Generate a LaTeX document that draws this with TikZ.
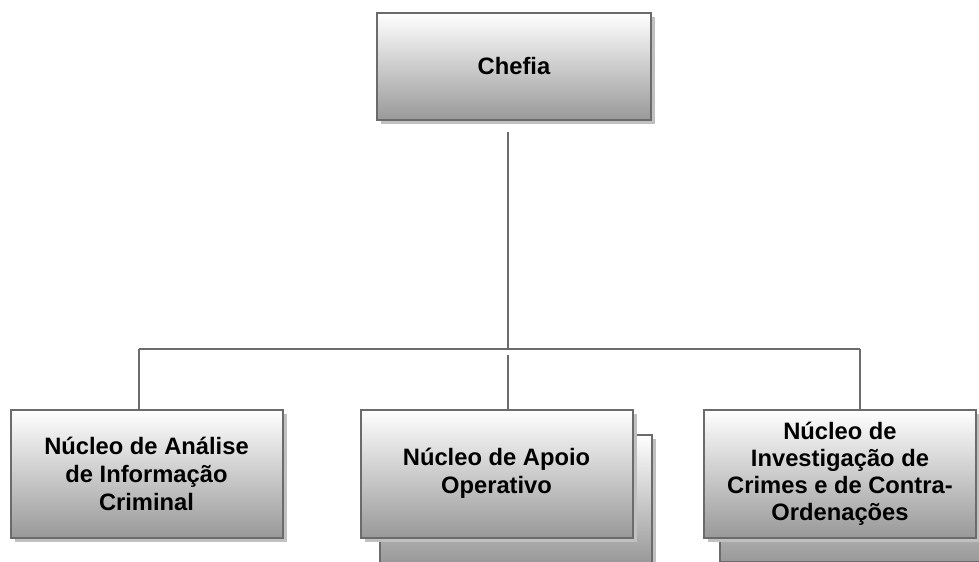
\documentclass[tikz,border=0pt]{standalone}
\usepackage{fontspec}
\setmainfont{Liberation Sans}
\usetikzlibrary{shadows}
\definecolor{edge}{HTML}{6B6B6B}
\definecolor{shadowgray}{HTML}{C0C0C0}
\definecolor{botgray}{HTML}{999999}
\begin{document}
\begin{tikzpicture}[x=0.75pt,y=-0.75pt,
  orgbox/.style={draw=edge, line width=1.5pt, top color=white, bottom color=botgray,
    drop shadow={shadow xshift=3pt, shadow yshift=-3pt, fill=shadowgray, opacity=1},
    minimum width=204pt, minimum height=96pt, inner sep=0pt, align=center,
    font=\bfseries\fontsize{17.8}{21}\selectfont},
  link/.style={draw=edge, line width=1.5pt}]
\useasboundingbox (0,0) rectangle (979,561);
\clip (0,0) rectangle (979,561);
% back boxes
\node[orgbox] (apoioback) at (515.5,498.5) {};
\node[orgbox] (investback) at (855.5,497.5) {};
% front boxes
\node[orgbox, minimum width=205.5pt, minimum height=80.25pt] (chefia) at (514,66.5) {Chefia};
\node[orgbox] (analise) at (146.5,473.5) {Núcleo de Análise\\de Informação\\Criminal};
\node[orgbox] (apoio) at (496.5,473.5) {Núcleo de Apoio\\Operativo};
\node[orgbox, font=\bfseries\fontsize{17.8}{20.3}\selectfont] (invest) at (840,473.5) {Núcleo de\\Investigação de\\Crimes e de Contra-\\Ordenações};
% connectors
\coordinate (top) at (508,132);
\coordinate (hub) at (508,349);
\coordinate (lj) at (139,349);
\coordinate (rj) at (860,349);
\coordinate (mid) at (508,355);
\draw[link] (top) -- (hub);
\draw[link] (lj) -- (rj);
\draw[link] (lj) -- (lj |- analise.north);
\draw[link] (rj) -- (rj |- invest.north);
\draw[link] (mid) -- (mid |- apoio.north);
\end{tikzpicture}
\end{document}
